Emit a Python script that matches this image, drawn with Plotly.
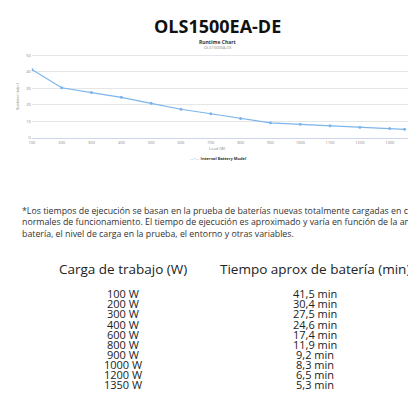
import plotly.graph_objects as go

load_w = [100, 200, 300, 400, 500, 600, 700, 800, 900, 1000, 1100, 1200, 1300, 1350]
runtime_min = [41.5, 30.4, 27.5, 24.6, 21.0, 17.4, 14.7, 11.9, 9.2, 8.3, 7.4, 6.5, 5.8, 5.3]

table_load = ["100 W", "200 W", "300 W", "400 W", "600 W", "800 W", "900 W", "1000 W", "1200 W", "1350 W"]
table_time = ["41,5 min", "30,4 min", "27,5 min", "24,6 min", "17,4 min", "11,9 min",
              "9,2 min", "8,3 min", "6,5 min", "5,3 min"]

W = H = 416
def py(y):  # pixel from top -> paper
    return 1 - y / H

fig = go.Figure()
fig.add_trace(go.Scatter(x=load_w, y=runtime_min, mode="lines+markers",
                         name="Internal Battery Model",
                         line=dict(color="#7cb5ec", width=1.2),
                         marker=dict(size=3, color="#7cb5ec")))

fig.update_layout(
    width=W, height=H, margin=dict(l=0, r=0, t=0, b=0),
    paper_bgcolor="white", plot_bgcolor="white", showlegend=False,
    font=dict(family="Open Sans", color="#222"),
    xaxis=dict(domain=[21 / W, 404 / W], range=[100, 1375],
               tickvals=list(range(100, 1400, 100)), tickfont=dict(size=4, color="#888"),
               showgrid=False, showline=True, linecolor="#ccd6eb", ticks=""),
    yaxis=dict(domain=[py(130), py(45)], range=[0, 51], dtick=10,
               tickfont=dict(size=4, color="#888"), gridcolor="#e6e6e6", zeroline=False),
)

def label(text, x, y, size, color="#222", xanchor="center", **kw):
    fig.add_annotation(text=text, x=x / W, y=py(y), xref="paper", yref="paper",
                       xanchor=xanchor, yanchor="middle", showarrow=False,
                       font=dict(size=size, color=color), **kw)

label("<b>OLS1500EA-DE</b>", 208, 17, 18, "#111")
label("<b>Runtime Chart</b>", 208, 33, 5, "#333")
label("OLS1500EA-DE", 208, 39, 4, "#888")
label("Load (W)", 208, 141, 4, "#888")
label("<span style='color:#7cb5ec'>—•—</span> <b>Internal Battery Model</b>", 208, 151, 4, "#333")
label("Runtime (min.)", 6, 88, 4, "#888", textangle=-90)

para = ("*Los tiempos de ejecución se basan en la prueba de baterías nuevas totalmente cargadas en condiciones<br>"
        "normales de funcionamiento. El tiempo de ejecución es aproximado y varía en función de la antigüedad de la<br>"
        "batería, el nivel de carga en la prueba, el entorno y otras variables.")
label(para, 9, 215, 8.8, "#333", xanchor="left", align="left")

label("Carga de trabajo (W)", 113, 262, 13.5)
label("Tiempo aprox de batería (min)", 306, 262, 13.5)
for i, (l, t) in enumerate(zip(table_load, table_time)):
    label(l, 113, 287 + i * 10.1, 11)
    label(t, 306, 287 + i * 10.1, 11)

fig.write_html("out.html")
